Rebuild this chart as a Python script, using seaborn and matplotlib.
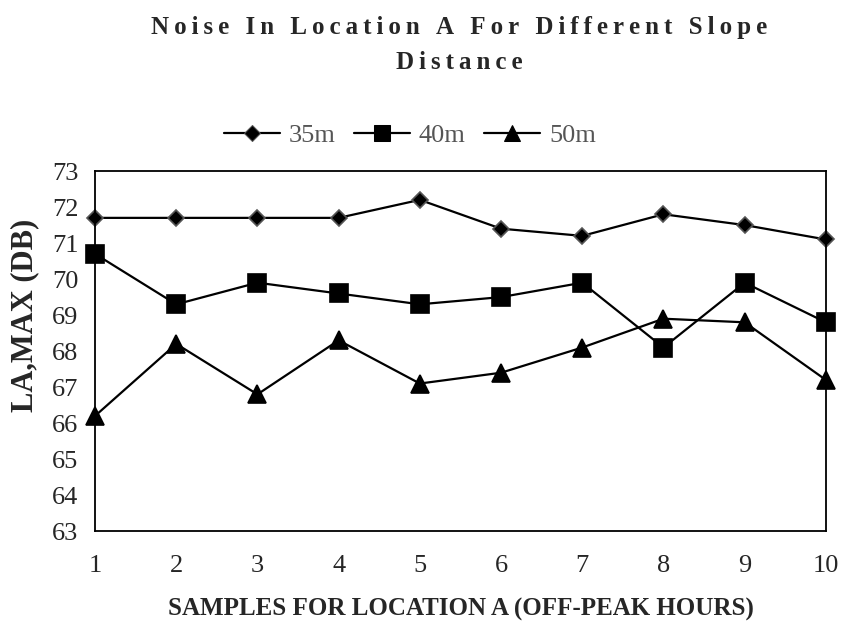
import pandas as pd
import matplotlib.pyplot as plt
import seaborn as sns

samples = list(range(1, 11))
noise_35m = [71.7, 71.7, 71.7, 71.7, 72.2, 71.4, 71.2, 71.8, 71.5, 71.1]
noise_40m = [70.7, 69.3, 69.9, 69.6, 69.3, 69.5, 69.9, 68.1, 69.9, 68.8]
noise_50m = [66.2, 68.2, 66.8, 68.3, 67.1, 67.4, 68.1, 68.9, 68.8, 67.2]
series_names = ['35m', '40m', '50m']

df = pd.DataFrame({
    'sample': samples * 3,
    'noise': noise_35m + noise_40m + noise_50m,
    'distance': [n for n in series_names for _ in samples],
})

sns.set_style('white')
plt.rcParams['font.family'] = ['Liberation Serif', 'DejaVu Serif']

fig = plt.figure(figsize=(8.41, 6.22), dpi=100)
ax = fig.add_axes([0.113, 0.146, 0.869, 0.579])

sns.lineplot(
    data=df, x='sample', y='noise', hue='distance', style='distance',
    palette=['black', 'black', 'black'],
    markers={'35m': 'D', '40m': 's', '50m': '^'},
    dashes=False, linewidth=1.6, markersize=11, ax=ax, legend=True,
)
# diamond markers are smaller with a grey edge
for line, size, edge in zip(ax.lines[:3], [8.5, 13, 12.5], ['#555555', 'black', 'black']):
    line.set_markersize(size)
    line.set_markeredgecolor(edge)
    line.set_markeredgewidth(1.2)
    line.set_clip_on(False)

ax.set_xlim(1, 10)
ax.set_ylim(63, 73)
ax.set_xticks(samples)
ax.set_yticks(range(63, 74))
ax.tick_params(axis='both', labelsize=19, length=0)
ax.tick_params(axis='x', pad=17)
ax.tick_params(axis='y', pad=12)
for spine in ax.spines.values():
    spine.set_color('black')
    spine.set_linewidth(1.3)

ax.set_xlabel('SAMPLES FOR LOCATION A (OFF-PEAK HOURS)', fontsize=18,
              fontweight='bold', labelpad=15)
ax.set_ylabel('LA,MAX (DB)', fontsize=22, fontweight='bold')
ax.yaxis.set_label_coords(-0.076, 0.6)

handles, labels = ax.get_legend_handles_labels()
for h, size, edge in zip(handles, [8.5, 11, 11], ['#555555', 'black', 'black']):
    h.set_markersize(size)
    h.set_markeredgecolor(edge)
    h.set_linewidth(1.6)
leg = ax.legend(handles, labels, loc='center', bbox_to_anchor=(0.431, 1.1),
                ncol=3, frameon=False, fontsize=19, handlelength=2.1,
                handletextpad=0.35, columnspacing=0.7)
for t in leg.get_texts():
    t.set_color('#555555')


def spaced(s):
    return '\u2009'.join(s)


fig.text(0.546, 0.955, spaced('Noise In Location A For Different Slope'),
         ha='center', va='center', fontsize=18, fontweight='bold')
fig.text(0.546, 0.9, spaced('Distance'), ha='center', va='center',
         fontsize=18, fontweight='bold')

fig.savefig('out.png', dpi=100)
